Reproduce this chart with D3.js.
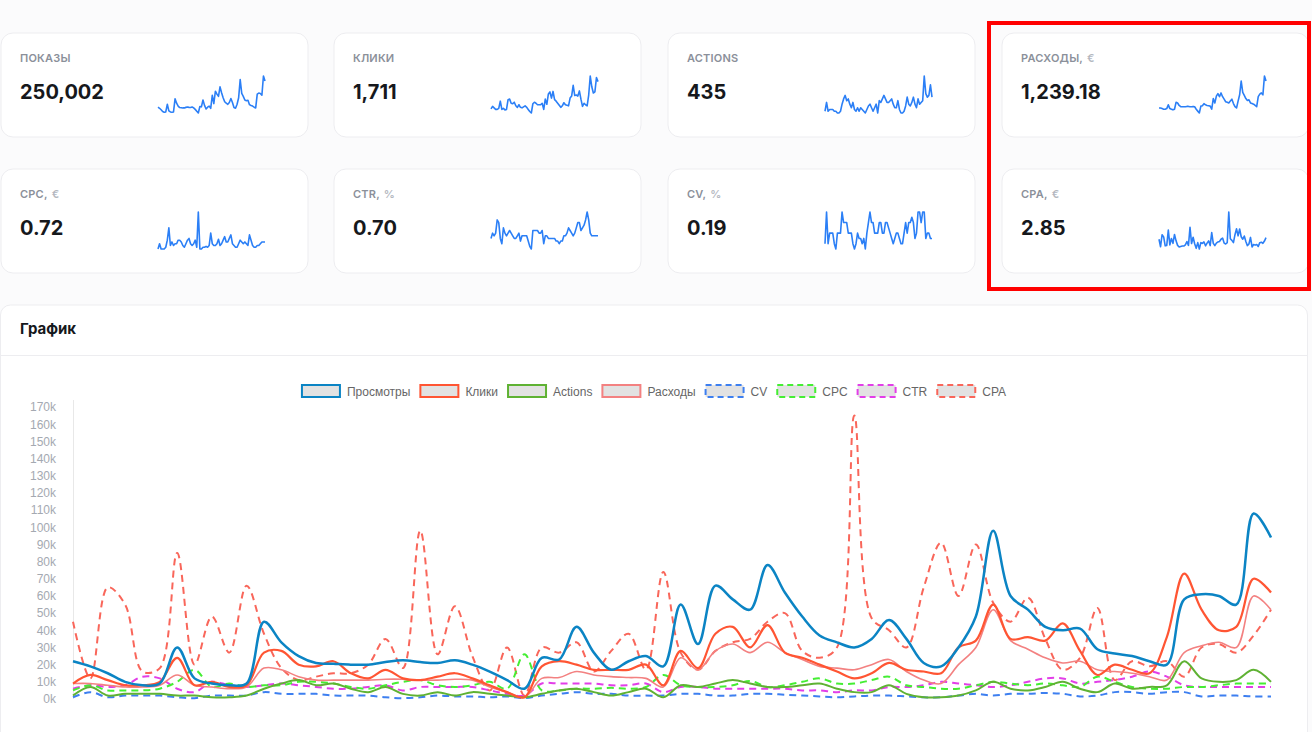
<!DOCTYPE html>
<html>
<head>
<meta charset="utf-8">
<script src="https://cdn.jsdelivr.net/npm/d3@7"></script>
<style>
  body { margin: 0; background: #fbfbfc; }
  svg { display: block; }
</style>
</head>
<body>
<svg id="dash" width="1312" height="732"></svg>
<script>
// values in thousands, one per day
const views = [22,19,15,10,8,9,30,12,9,8, 9,45,33,25,21,20.5,20,20,21.5,22.5, 21.5,21,22.5,20,16,11,6,24,23,42, 27,17,22,25,19,55,32,66,58,52, 78,62,48,37,33,30,35,46,35,21, 19,30,48,98,60,52,42,40,41,29, 26.5,25,22,20,58,61,60,55,108,94]
const clicks = [9,14,11,8,8,10,24,8,10,7, 8,27,28,20,19,22,15,12,17,12, 11,13,15,12,8,4,1,19,22,20, 17,17,17,20,8,28,18,38,42,30, 43,27,24,20,16,12,15,21,17,16, 15,30,34,55,35,36,34,44,28,14, 20,17,15,36,73,52,40,42,70,62]
const actions = [2,7,2,3,3,3,2,2,1,1, 2,6,9,11,8,9,6,4,7,3, 2,4,2,4,3,2,1,3,5,6, 4,2,4,6,1,8,7,9,11,9, 7,7,8,9,6,4,4,8,3,1, 1,2,5,10,6,5,7,10,6,4, 9,6,7,8,22,12,10,11,17,10]
const spend = [9,9,8,7,7,8,14,8,7,6, 7,18,17,13,11,11,11,11,11.5,11.5, 11,11,11.5,11,7,4,1,12,12.5,16, 14,13,12.5,12,7,24,17,28,32,27, 33,27,23,19,18,17,20,23,16,11, 9,20,30,52,34,29,24,21,22,17, 16,15,13,11,27,31,33,30,60,52]
const cv = [1,4,1,2,2,2,1,0.5,2,2, 2,4,3,3,3,2,2,2,1,0.5, 1,2,1.5,1.5,1,1.5,0.5,2,3,4, 3,3,2,2,2,3,3,2,2,3, 3,2.5,2,1.5,1,1.5,2,2,1.5,1, 1,2,3,2,3,3,3.5,3,1.5,2, 4,4,3,4,4,1.5,2,2,1.5,1.5]
const cpc = [5,8,5,5,5,6,10,17,7,9, 7,8,8,10,10,9,7,6,8,10, 11,8,7,8,10,6,26,5,5,6, 6,6.5,6,7,14,8,7,7,8,10.5, 7,8,10,12,9,9,11,13,8,7, 6,6,8,10,9,8,9,8,7,13, 10,7,6,6,7,7,8,9,9,9]
const ctr = [6,8,7,8,13,12,6,4,10,8, 7,8,9,8,7,6,6,7,8,5, 7,7,7,7,5,3,2,9,9,9, 9,8,8,9,4,7,7,6,6,6, 6,6,5,5,4,5,5,7,7,8, 10,9,8,7,8,10,12,12,9,10, 11,13,16,13,8,7,7,7,7,7]
const cpa = [45,12,65,55,16,18,85,20,48,27, 66,38,18,11,13,15,15,20,35,18, 98,26,54,25,5,30,2,30,27,33, 16,28,38,17,74,27,17,28,33,35, 45,50,28,24,30,165,47,40,30,65, 91,60,90,56,45,59,35,17,24,53, 11,22,19,22,13,30,32,27,37,52]

const yTicks = d3.range(0, 171, 10)

const cardLabels = ["ПОКАЗЫ", "КЛИКИ", "ACTIONS", "РАСХОДЫ", "CPC", "CTR", "CV", "CPA"]
const cardUnits = ["", "", "", "€", "€", "%", "%", "€"]
const cardValues = ["250,002", "1,711", "435", "1,239.18", "0.72", "0.70", "0.19", "2.85"]
const cardSeries = [views, clicks, actions, spend, cpc, ctr, cv, cpa]

const series = [
    {name: "Просмотры", data: views, color: "#0b84c4", width: 2.5, dash: null},
    {name: "Клики", data: clicks, color: "#ff5533", width: 2.2, dash: null},
    {name: "Actions", data: actions, color: "#5fb233", width: 2, dash: null},
    {name: "Расходы", data: spend, color: "#f38181", width: 1.6, dash: null},
    {name: "CV", data: cv, color: "#3d7ff0", width: 2, dash: "7,5"},
    {name: "CPC", data: cpc, color: "#44ee33", width: 2, dash: "7,5"},
    {name: "CTR", data: ctr, color: "#e23ee8", width: 2, dash: "7,5"},
    {name: "CPA", data: cpa, color: "#f9665a", width: 2, dash: "7,5"}
]

const svg = d3.select("#dash")
const uiFont = "Inter, 'Noto Sans', sans-serif"
const chartFont = "'Liberation Sans', Arial, sans-serif"

// KPI cards
const cardW = 307, cardH = 104
const cardX = [1, 334, 668, 1002]
const rowY = [33, 169]

cardLabels.forEach((label, i) => {
    const x = cardX[i % 4], y = rowY[Math.floor(i / 4)]
    const g = svg.append("g").attr("transform", `translate(${x},${y})`)
    g.append("rect")
        .attr("width", cardW).attr("height", cardH).attr("rx", 12)
        .attr("fill", "#fff").attr("stroke", "#ededf0")
    const t = g.append("text")
        .attr("x", 19).attr("y", 29)
        .attr("font-family", uiFont).attr("font-size", 11).attr("font-weight", 600)
        .attr("fill", "#8b909a").attr("letter-spacing", 0.2)
    t.append("tspan").text(label + (cardUnits[i] ? "," : ""))
    if (cardUnits[i]) t.append("tspan").attr("fill", "#b4b8bf").attr("dx", 4).text(cardUnits[i])
    g.append("text")
        .attr("x", 19).attr("y", 66)
        .attr("font-family", uiFont).attr("font-size", 20).attr("font-weight", 700)
        .attr("fill", "#16181c")
        .text(cardValues[i])

    // sparkline
    const data = cardSeries[i]
    const sx = d3.scaleLinear().domain([0, data.length - 1]).range([157, 264])
    const sy = d3.scaleLinear().domain(d3.extent(data)).range([80, 43])
    g.append("path")
        .datum(data)
        .attr("fill", "none").attr("stroke", "#2b7ff6").attr("stroke-width", 1.6)
        .attr("stroke-linejoin", "round")
        .attr("d", d3.line().x((d, j) => sx(j)).y(d => sy(d)))
})

// annotation box
svg.append("rect")
    .attr("x", 989).attr("y", 23).attr("width", 320).attr("height", 266)
    .attr("fill", "none").attr("stroke", "#ff0000").attr("stroke-width", 4)

// chart card
svg.append("rect")
    .attr("x", 0.5).attr("y", 305).attr("width", 1307).attr("height", 460).attr("rx", 10)
    .attr("fill", "#fff").attr("stroke", "#ededf0")
svg.append("text")
    .attr("x", 20).attr("y", 334)
    .attr("font-family", uiFont).attr("font-size", 15).attr("font-weight", 700)
    .attr("fill", "#16181c")
    .text("График")
svg.append("line")
    .attr("x1", 0).attr("x2", 1308).attr("y1", 355.5).attr("y2", 355.5)
    .attr("stroke", "#ededf0")

const x = d3.scaleLinear().domain([0, views.length - 1]).range([73, 1271])
const y = d3.scaleLinear().domain([0, 170]).range([699, 407])

const yAxis = svg.append("g")
    .attr("transform", "translate(73,0)")
    .call(d3.axisLeft(y).tickValues(yTicks).tickSize(0).tickPadding(17).tickFormat(d => d + "k"))
yAxis.select(".domain").remove()
yAxis.selectAll("text")
    .attr("font-family", chartFont).attr("font-size", 12).attr("fill", "#a4a9b1")

svg.append("line")
    .attr("x1", 73.5).attr("x2", 73.5).attr("y1", 400).attr("y2", 699)
    .attr("stroke", "#e8e8e8")

svg.append("clipPath").attr("id", "plot")
    .append("rect").attr("x", 70).attr("y", 400).attr("width", 1205).attr("height", 300)

const line = d3.line()
    .x((d, i) => x(i))
    .y(d => y(d))
    .curve(d3.curveCatmullRom.alpha(0.5))

svg.append("g")
    .attr("clip-path", "url(#plot)")
    .selectAll("path")
    .data(series.slice().reverse())
    .join("path")
    .attr("fill", "none")
    .attr("stroke", d => d.color)
    .attr("stroke-width", d => d.width)
    .attr("stroke-dasharray", d => d.dash)
    .attr("d", d => line(d.data))

// legend
const legend = svg.append("g").attr("font-family", chartFont).attr("font-size", 12)
const items = legend.selectAll("g").data(series).join("g")
items.append("rect")
    .attr("width", 38).attr("height", 12).attr("y", 385)
    .attr("fill", "#e2e2e2")
    .attr("stroke", d => d.color).attr("stroke-width", 2)
    .attr("stroke-dasharray", d => d.dash ? "6,4" : null)
items.append("text")
    .attr("x", 45).attr("y", 395.5)
    .attr("fill", "#666")
    .text(d => d.name)
const widths = []
items.each(function () {
    widths.push(45 + d3.select(this).select("text").node().getComputedTextLength())
})
const total = d3.sum(widths) + 10 * (widths.length - 1)
let cx = 654 - total / 2
items.attr("transform", (d, i) => {
    const tx = cx
    cx += widths[i] + 10
    return `translate(${tx},0)`
})
</script>
</body>
</html>
